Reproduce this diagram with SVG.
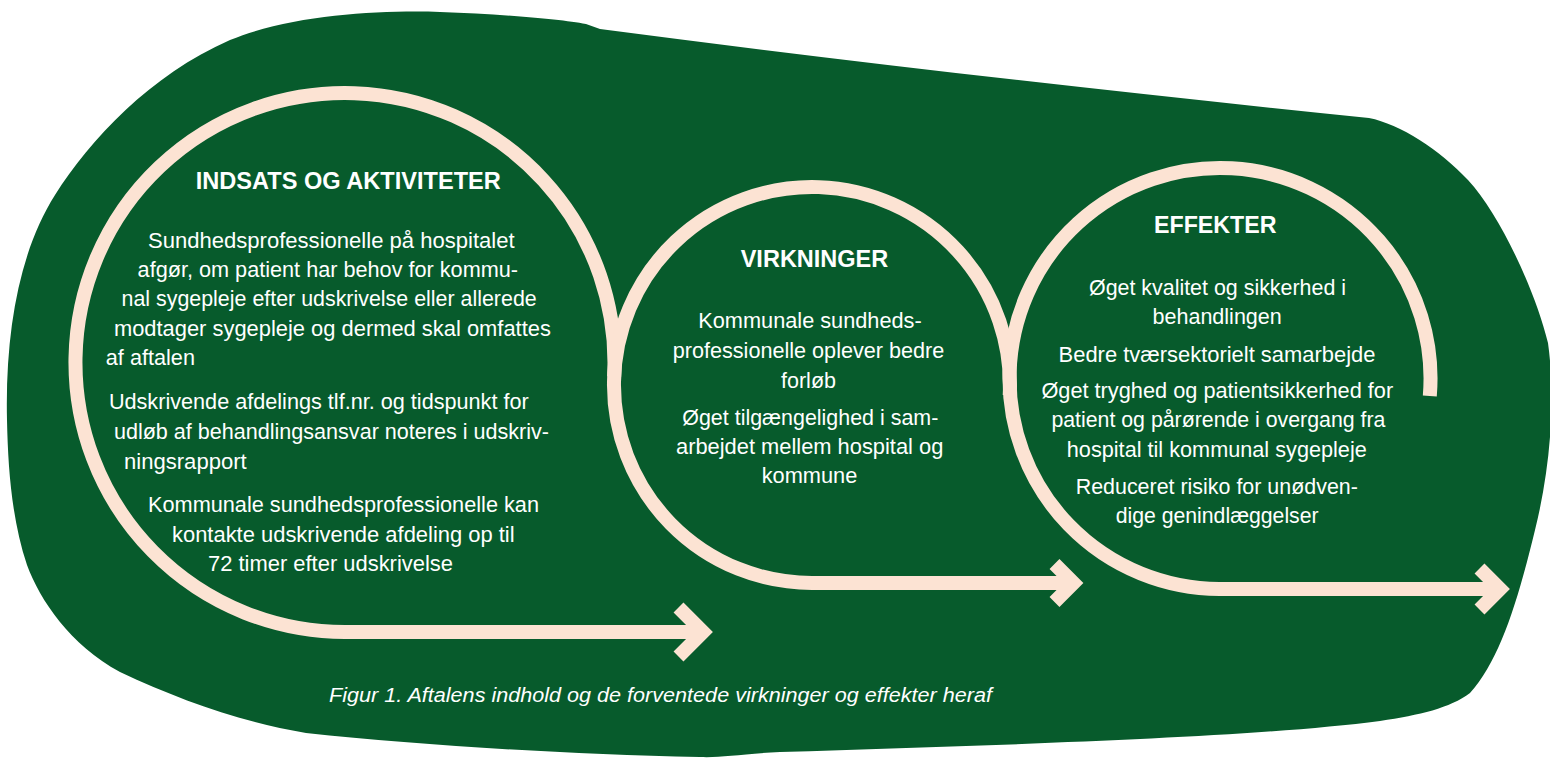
<svg xmlns="http://www.w3.org/2000/svg" width="1550" height="762" viewBox="0 0 1550 762">
<defs>
<style>
.bg{fill:#075B2C;}
.ring{fill:none;stroke:#FCE3D3;stroke-width:14;stroke-linejoin:miter;stroke-miterlimit:10;}
.h{font-family:"Liberation Sans",Arial,sans-serif;font-weight:bold;font-size:23.5px;fill:#ffffff;}
.t{font-family:"Liberation Sans",Arial,sans-serif;font-size:21.5px;fill:#ffffff;}
.cap{font-family:"Liberation Sans",Arial,sans-serif;font-style:italic;font-size:20px;fill:#ffffff;}
</style>
</defs>
<rect width="1550" height="762" fill="#ffffff"/>
<path id="blob" class="bg" d="M 7,420 C 5,330 20,250 55,195 C 90,140 150,75 230,40 C 290,15 380,10 440,12 C 500,14 560,19 586,24 L 600,29 Q 950,75 1369,118 C 1400,124 1440,150 1468,180 C 1500,215 1535,290 1548,343 C 1556,400 1550,470 1535,530 C 1518,600 1500,660 1470,693 C 1450,708 1420,715 1380,721 C 1250,738 1000,745 780,752 C 740,754 720,758 700,757 C 560,754 420,745 306,733 C 240,722 180,700 120,672 C 70,645 40,600 27,565 C 12,520 8,470 7,420 Z"/>
<g id="connectors">
<path class="ring" d="M 614.1,376.6 A 269.5 269.5 0 1 0 345,632 L 703,632"/>
<path class="ring" d="M 678.5,607.5 L 703,632 L 678.5,656.5"/>
<path class="ring" d="M 1009.7,395.4 A 198 198 0 1 0 812,583 L 1073.5,583"/>
<path class="ring" d="M 1054.5,564 L 1073.5,583 L 1054.5,602"/>
<path class="ring" d="M 1429.8,396 A 210.5 210.5 0 1 0 1219.5,589 L 1500,589"/>
<path class="ring" d="M 1479.5,568.5 L 1500,589 L 1479.5,609.5"/>
</g>
<g id="node-indsats">
<text class="h" x="195.8" y="189" textLength="305" lengthAdjust="spacingAndGlyphs">INDSATS OG AKTIVITETER</text>
<text class="t" x="148" y="248" textLength="366.6" lengthAdjust="spacingAndGlyphs">Sundhedsprofessionelle på hospitalet</text>
<text class="t" x="137.6" y="277" textLength="380.4" lengthAdjust="spacingAndGlyphs">afgør, om patient har behov for kommu-</text>
<text class="t" x="121.5" y="306.4" textLength="415.2" lengthAdjust="spacingAndGlyphs">nal sygepleje efter udskrivelse eller allerede</text>
<text class="t" x="113.9" y="335.5" textLength="437" lengthAdjust="spacingAndGlyphs">modtager sygepleje og dermed skal omfattes</text>
<text class="t" x="105.8" y="365" textLength="89.2" lengthAdjust="spacingAndGlyphs">af aftalen</text>
<text class="t" x="108.9" y="409" textLength="419.8" lengthAdjust="spacingAndGlyphs">Udskrivende afdelings tlf.nr. og tidspunkt for</text>
<text class="t" x="113.9" y="439" textLength="435.1" lengthAdjust="spacingAndGlyphs">udløb af behandlingsansvar noteres i udskriv-</text>
<text class="t" x="124" y="468.5" textLength="122.7" lengthAdjust="spacingAndGlyphs">ningsrapport</text>
<text class="t" x="148" y="512" textLength="391" lengthAdjust="spacingAndGlyphs">Kommunale sundhedsprofessionelle kan</text>
<text class="t" x="172" y="541.7" textLength="342.6" lengthAdjust="spacingAndGlyphs">kontakte udskrivende afdeling op til</text>
<text class="t" x="208" y="571" textLength="245" lengthAdjust="spacingAndGlyphs">72 timer efter udskrivelse</text>
</g>
<g id="node-virkninger">
<text class="h" x="740.7" y="267.3" textLength="147.6" lengthAdjust="spacingAndGlyphs">VIRKNINGER</text>
<text class="t" x="698.3" y="328.3" textLength="223.4" lengthAdjust="spacingAndGlyphs">Kommunale sundheds-</text>
<text class="t" x="672.7" y="358.3" textLength="271.6" lengthAdjust="spacingAndGlyphs">professionelle oplever bedre</text>
<text class="t" x="781" y="387.7" textLength="55" lengthAdjust="spacingAndGlyphs">forløb</text>
<text class="t" x="682.3" y="425" textLength="256" lengthAdjust="spacingAndGlyphs">Øget tilgængelighed i sam-</text>
<text class="t" x="676" y="454.3" textLength="267.3" lengthAdjust="spacingAndGlyphs">arbejdet mellem hospital og</text>
<text class="t" x="761.7" y="483.3" textLength="95.6" lengthAdjust="spacingAndGlyphs">kommune</text>
</g>
<g id="node-effekter">
<text class="h" x="1154" y="233.3" textLength="122.4" lengthAdjust="spacingAndGlyphs">EFFEKTER</text>
<text class="t" x="1089" y="295" textLength="257" lengthAdjust="spacingAndGlyphs">Øget kvalitet og sikkerhed i</text>
<text class="t" x="1152.5" y="324" textLength="129.3" lengthAdjust="spacingAndGlyphs">behandlingen</text>
<text class="t" x="1058.6" y="361.7" textLength="316.8" lengthAdjust="spacingAndGlyphs">Bedre tværsektorielt samarbejde</text>
<text class="t" x="1041.4" y="398.3" textLength="351.8" lengthAdjust="spacingAndGlyphs">Øget tryghed og patientsikkerhed for</text>
<text class="t" x="1051.4" y="427" textLength="334" lengthAdjust="spacingAndGlyphs">patient og pårørende i overgang fra</text>
<text class="t" x="1066.8" y="456.7" textLength="300" lengthAdjust="spacingAndGlyphs">hospital til kommunal sygepleje</text>
<text class="t" x="1075.7" y="494.3" textLength="282.2" lengthAdjust="spacingAndGlyphs">Reduceret risiko for unødven-</text>
<text class="t" x="1115.7" y="523.3" textLength="202.9" lengthAdjust="spacingAndGlyphs">dige genindlæggelser</text>
</g>
<g id="caption">
<text class="cap" x="329" y="702" textLength="663" lengthAdjust="spacingAndGlyphs">Figur 1. Aftalens indhold og de forventede virkninger og effekter heraf</text>
</g>
</svg>
